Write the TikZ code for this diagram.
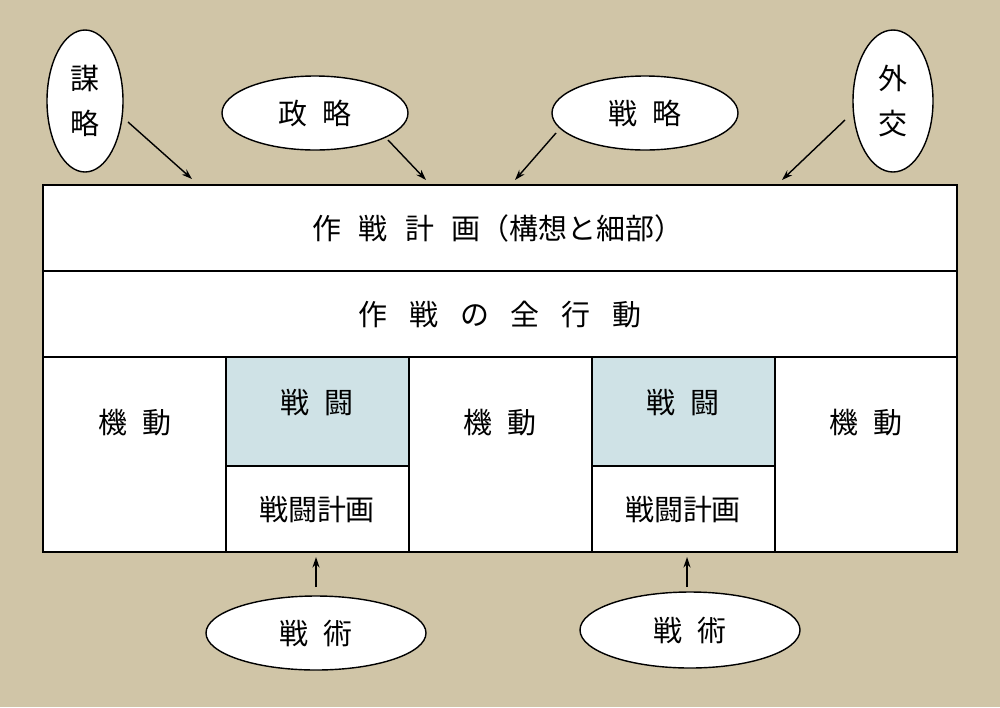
\documentclass[tikz,border=0pt]{standalone}
\usepackage{fontspec}
\setmainfont{Noto Sans CJK JP}
\usetikzlibrary{arrows.meta}
\definecolor{bg}{HTML}{D0C5A7}
\definecolor{cellblue}{HTML}{CFE2E6}
\begin{document}
\begin{tikzpicture}[x=0.02cm,y=-0.02cm,
  box/.style={draw=black,line width=0.8pt,fill=white},
  ell/.style={draw=black,line width=0.8pt,fill=white},
  lab/.style={font=\fontsize{16.5}{20}\selectfont},
  arr/.style={-{Stealth[length=6pt,width=4pt]},line width=0.8pt}]
\fill[bg] (0,0) rectangle (1000,707);
\useasboundingbox (0,0) rectangle (1000,707);
% rows
\draw[box] (43,185) rectangle (957,271);
\draw[box] (43,271) rectangle (957,357);
\foreach \a/\b in {43/226,226/409,409/592,592/775,775/957}
  \draw[box] (\a,357) rectangle (\b,552);
\draw[box,fill=cellblue] (226,357) rectangle (409,466);
\draw[box,fill=cellblue] (592,357) rectangle (775,466);
\draw[box] (226,466) rectangle (409,552);
\draw[box] (592,466) rectangle (775,552);
\node[lab] (plan) at (498,228) {作\hspace{0.6em}戦\hspace{0.6em}計\hspace{0.6em}画（構想と細部）};
\node[lab] (all) at (500,315) {作\hspace{0.75em}戦\hspace{0.75em}の\hspace{0.75em}全\hspace{0.75em}行\hspace{0.75em}動};
\node[lab] (m1) at (135,423) {機\hspace{0.5em}動};
\node[lab] (m2) at (500,423) {機\hspace{0.5em}動};
\node[lab] (m3) at (866,423) {機\hspace{0.5em}動};
\node[lab] (b1) at (317,403) {戦\hspace{0.5em}闘};
\node[lab] (b2) at (683,403) {戦\hspace{0.5em}闘};
\node[lab] (p1) at (317,510) {戦闘計画};
\node[lab] (p2) at (683,510) {戦闘計画};
% ellipses
\draw[ell] (85,101) ellipse [x radius=38, y radius=71];
\node[lab,align=center] (bo) at (85,101) {謀\\[6pt]略};
\draw[ell] (315,113) ellipse [x radius=93, y radius=37];
\node[lab] (se) at (315,113) {政\hspace{0.5em}略};
\draw[ell] (645,113) ellipse [x radius=93, y radius=37];
\node[lab] (sr) at (645,113) {戦\hspace{0.5em}略};
\draw[ell] (893,101) ellipse [x radius=40, y radius=71];
\node[lab,align=center] (gk) at (893,101) {外\\[6pt]交};
\draw[ell] (316,633) ellipse [x radius=110, y radius=37];
\node[lab] (t1) at (316,633) {戦\hspace{0.5em}術};
\draw[ell] (690,630) ellipse [x radius=110, y radius=38];
\node[lab] (t2) at (690,630) {戦\hspace{0.5em}術};
% arrows
\coordinate (a1s) at (128,122); \coordinate (a1e) at (192,179);
\coordinate (a2s) at (388,140); \coordinate (a2e) at (426,180);
\coordinate (a3s) at (556,133); \coordinate (a3e) at (515,180);
\coordinate (a4s) at (845,120); \coordinate (a4e) at (782,180);
\coordinate (a5s) at (316,587); \coordinate (a5e) at (316,557);
\coordinate (a6s) at (687,587); \coordinate (a6e) at (687,557);
\foreach \i in {1,...,6} \draw[arr] (a\i s) -- (a\i e);
\end{tikzpicture}
\end{document}
